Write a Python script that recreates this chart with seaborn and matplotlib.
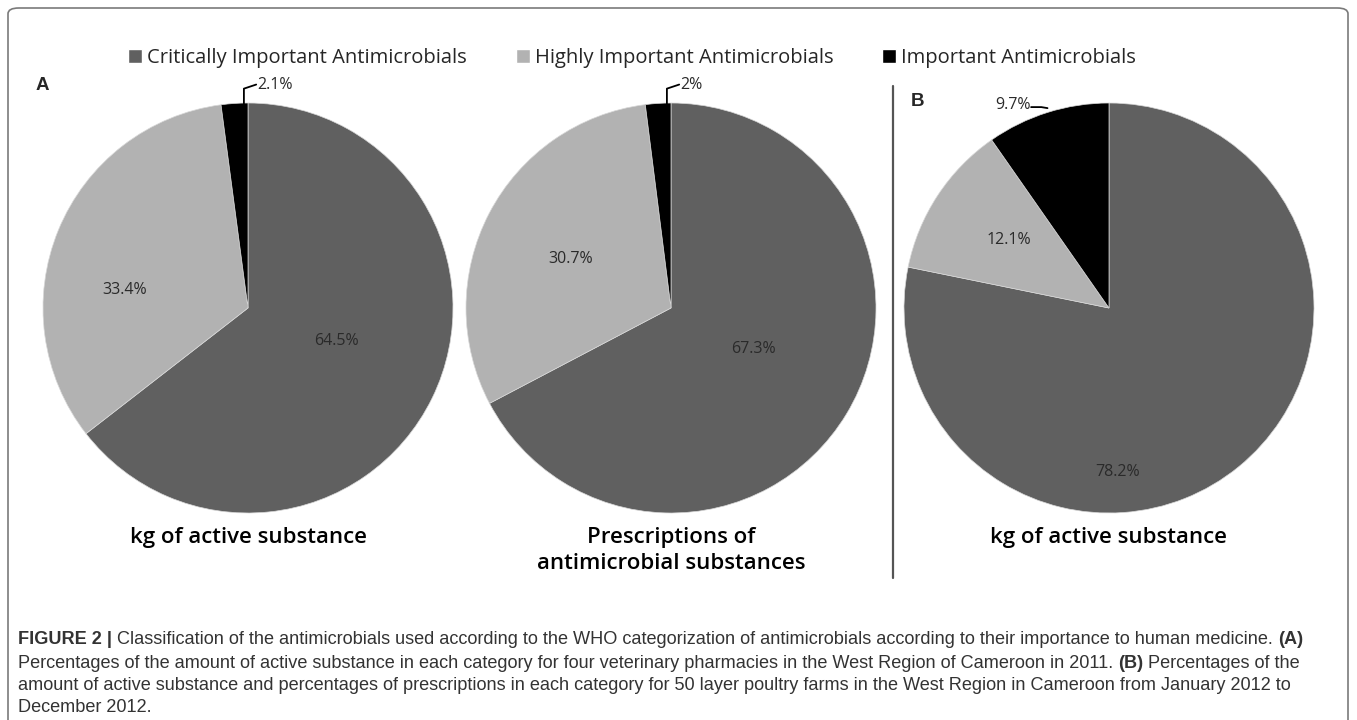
import matplotlib
matplotlib.use("Agg")
import matplotlib.pyplot as plt
import seaborn as sns
from matplotlib.patches import FancyBboxPatch, Patch

sns.set_theme(style="white")
plt.rcParams['font.family'] = ['Open Sans', 'DejaVu Sans']

# data
categories = ["Critically Important Antimicrobials",
              "Highly Important Antimicrobials",
              "Important Antimicrobials"]
kg_pharmacies = [64.5, 33.4, 2.1]
prescriptions = [67.3, 30.7, 2.0]
kg_farms = [78.2, 12.1, 9.7]
pct_labels_1 = ["64.5%", "33.4%", "2.1%"]
pct_labels_2 = ["67.3%", "30.7%", "2%"]
pct_labels_3 = ["78.2%", "12.1%", "9.7%"]
titles = ["kg of active substance",
          "Prescriptions of\nantimicrobial substances",
          "kg of active substance"]
colors = ["#606060", "#b2b2b2", "#000000"]

W, H = 1357, 720
fig = plt.figure(figsize=(W / 100, H / 100), dpi=100)

# outer frame
frame = FancyBboxPatch((8 / W, -0.05), (W - 17) / W, 1.05 - 8 / H,
                       boxstyle="round,pad=0,rounding_size=0.008",
                       transform=fig.transFigure, fill=False,
                       edgecolor="#7a7a7a", linewidth=1.2)
fig.patches.append(frame)


def pie_axes(cx, cy, r):
    ax = fig.add_axes([(cx - r) / W, 1 - (cy + r) / H, 2 * r / W, 2 * r / H])
    ax.axis("off")
    return ax


# label positions in pie units (text centre), leader lines for small slices
label_pos = [
    [(0.43, -0.16), (-0.60, 0.09), (0.13, 1.09)],
    [(0.40, -0.20), (-0.49, 0.24), (0.10, 1.09)],
    [(0.04, -0.80), (-0.49, 0.33), (-0.47, 0.99)],
]
leaders = [
    [(-0.02, 0.995), (-0.02, 1.07), (0.04, 1.09)],
    [(-0.02, 0.995), (-0.02, 1.07), (0.04, 1.09)],
    [(-0.30, 0.975), (-0.33, 0.98), (-0.38, 0.98)],
]

centers = [(248, 308), (671, 308), (1109, 308)]
datasets = [kg_pharmacies, prescriptions, kg_farms]
labelsets = [pct_labels_1, pct_labels_2, pct_labels_3]

handles = None
for i, (c, vals, labs) in enumerate(zip(centers, datasets, labelsets)):
    ax = pie_axes(c[0], c[1], 205)
    wedges, _ = ax.pie(vals, colors=colors, startangle=90, counterclock=False,
                       radius=1, wedgeprops=dict(linewidth=0.5, edgecolor="#d8d8d8"))
    ax.set_xlim(-1, 1)
    ax.set_ylim(-1, 1)
    ax.set_aspect("equal")
    if handles is None:
        handles = wedges
    for lab, pos in zip(labs, label_pos[i]):
        ax.text(pos[0], pos[1], lab, ha="center", va="center",
                fontsize=11.5, color="#2a2a2a", clip_on=False)
    lx, ly = zip(*leaders[i])
    ax.plot(lx, ly, color="black", lw=1.3, clip_on=False)
    ax.text(0, -1.07, titles[i], ha="center", va="top", fontsize=16,
            fontweight="semibold", color="black", linespacing=1.3,
            clip_on=False)

fig.legend([Patch(facecolor=w.get_facecolor()) for w in handles], categories,
           loc="center", bbox_to_anchor=(632 / W, 1 - 58 / H), ncol=3,
           frameon=False, fontsize=14.5, handlelength=0.7, handleheight=0.7,
           handletextpad=0.25, columnspacing=2.4)

# panel letters and separator
fig.text(42 / W, 1 - 86 / H, "A", fontsize=13.5, fontweight="bold",
         family="Liberation Sans", ha="center", va="center")
fig.text(918 / W, 1 - 101 / H, "B", fontsize=13.5, fontweight="bold",
         family="Liberation Sans", ha="center", va="center")
fig.add_artist(plt.Line2D([893 / W, 893 / W], [1 - 86 / H, 1 - 578 / H],
                          transform=fig.transFigure, color="#555555", lw=1.6))

# caption with bold fragments
caption = [
    [("FIGURE 2 | ", True),
     ("Classification of the antimicrobials used according to the WHO categorization "
      "of antimicrobials according to their importance to human medicine. ", False),
     ("(A)", True)],
    [("Percentages of the amount of active substance in each category for four veterinary "
      "pharmacies in the West Region of Cameroon in 2011. ", False),
     ("(B)", True), (" Percentages of the", False)],
    [("amount of active substance and percentages of prescriptions in each category for 50 "
      "layer poultry farms in the West Region in Cameroon from January 2012 to", False)],
    [("December 2012.", False)],
]
cap_family = ["Liberation Sans", "DejaVu Sans"]
renderer = fig.canvas.get_renderer()
line_y = [640, 663, 685, 707]
for parts, yy in zip(caption, line_y):
    x = 18
    for txt, bold in parts:
        t = fig.text(x / W, 1 - yy / H, txt, fontsize=13.1, family=cap_family,
                     fontweight="bold" if bold else "normal", color="#333333",
                     va="center", ha="left")
        bb = t.get_window_extent(renderer)
        x += bb.width

fig.savefig("out.png", dpi=100)
